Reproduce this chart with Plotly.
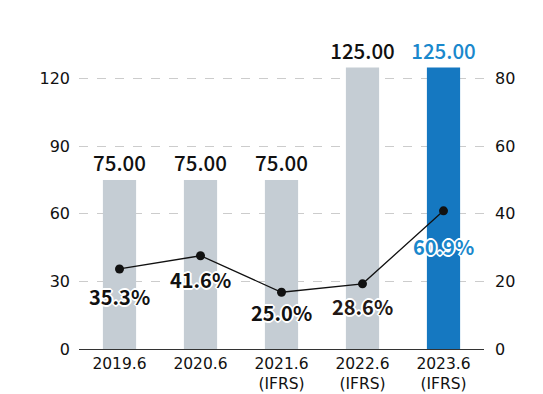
import plotly.graph_objects as go

categories = ["2019.6", "2020.6", "2021.6<br>(IFRS)", "2022.6<br>(IFRS)", "2023.6<br>(IFRS)"]
dividends = [75.00, 75.00, 75.00, 125.00, 125.00]
dividend_labels = ["75.00", "75.00", "75.00", "125.00", "125.00"]
line_values = [23.7, 27.6, 16.8, 19.3, 40.9]
ratio_labels = ["35.3%", "41.6%", "25.0%", "28.6%", "60.9%"]
left_ticks = [0, 30, 60, 90, 120]
right_ticks = [0, 20, 40, 60, 80]

GRAY = "#c5cdd4"
BLUE = "#1578c1"
LBLUE = "#1a88cc"
FONT = "Noto Sans CJK JP"
TFONT = "DejaVu Sans"

bar_colors = [GRAY, GRAY, GRAY, GRAY, BLUE]
label_colors = ["#111111", "#111111", "#111111", "#111111", LBLUE]
ratio_colors = ["#111111", "#111111", "#111111", "#231815", LBLUE]
ratio_shift = [-28, -24, -20, -23, -36]

fig = go.Figure()
fig.add_trace(go.Bar(
    x=categories, y=dividends, marker=dict(color=bar_colors, line=dict(width=0)),
    width=0.41, text=dividend_labels, textposition="outside", cliponaxis=False,
    constraintext="none",
    textfont=dict(family=FONT, size=20.5, color=label_colors, weight=500),
    yaxis="y", showlegend=False, hoverinfo="skip",
))
fig.add_trace(go.Scatter(
    x=categories, y=line_values, mode="lines+markers",
    line=dict(color="#111111", width=1.3),
    marker=dict(color="#111111", size=9),
    yaxis="y2", showlegend=False, hoverinfo="skip", cliponaxis=False,
))

SH = "1px 1px 0 #fff, -1px -1px 0 #fff, 1px -1px 0 #fff, -1px 1px 0 #fff, 0 2px 0 #fff, 0 -2px 0 #fff, 2px 0 0 #fff, -2px 0 0 #fff"
for i, (v, t, col, s) in enumerate(zip(line_values, ratio_labels, ratio_colors, ratio_shift)):
    fig.add_annotation(
        x=i, y=v, xref="x", yref="y2", text=t, showarrow=False, yshift=s,
        font=dict(family=FONT, size=20, color=col, weight=700, shadow=SH),
    )

fig.update_layout(
    width=535, height=386,
    margin=dict(l=71, r=59, t=37, b=45, autoexpand=False),
    paper_bgcolor="white", plot_bgcolor="white",
    font=dict(family=TFONT, size=16, color="#111111"),
    xaxis=dict(
        type="category", range=[-0.5, 4.5], showgrid=False, automargin=False,
        showline=True, linecolor="#333333", linewidth=1,
        ticks="", tickfont=dict(family=TFONT, size=15.5, color="#111111"),
    ),
    yaxis=dict(
        range=[0, 135], tickvals=left_ticks, ticktext=[str(v) for v in left_ticks],
        showgrid=True, gridcolor="#cccccc", griddash="dash", gridwidth=1,
        zeroline=False, showline=False, ticks="", ticklabelstandoff=8, automargin=False,
        tickfont=dict(family=TFONT, size=16, color="#111111"),
    ),
    yaxis2=dict(
        range=[0, 90], tickvals=right_ticks, ticktext=[str(v) for v in right_ticks],
        overlaying="y", side="right", showgrid=False, zeroline=False, automargin=False,
        showline=False, ticks="", ticklabelstandoff=10,
        tickfont=dict(family=TFONT, size=16, color="#111111"),
    ),
)
fig.write_html("out.html")
